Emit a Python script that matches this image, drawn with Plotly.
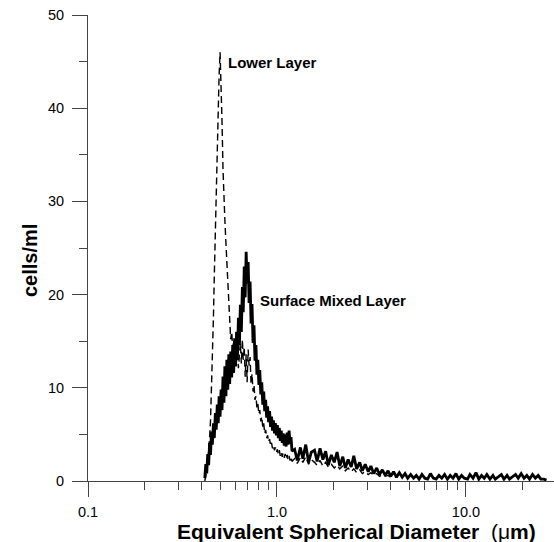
import plotly.graph_objects as go

# Channel centres of the size spectrum (equivalent spherical diameter, um)
diameter_um = [
    0.415, 0.420, 0.425, 0.430, 0.435, 0.440, 0.445, 0.450, 0.455, 0.461,
    0.466, 0.472, 0.477, 0.483, 0.489, 0.494, 0.500, 0.506, 0.512, 0.518,
    0.524, 0.530, 0.537, 0.543, 0.549, 0.556, 0.562, 0.569, 0.576, 0.583,
    0.590, 0.597, 0.604, 0.611, 0.618, 0.625, 0.633, 0.640, 0.648, 0.656,
    0.663, 0.671, 0.679, 0.687, 0.695, 0.704, 0.712, 0.721, 0.729, 0.738,
    0.747, 0.756, 0.765, 0.774, 0.783, 0.792, 0.802, 0.811, 0.821, 0.831,
    0.841, 0.851, 0.861, 0.871, 0.882, 0.892, 0.903, 0.914, 0.925, 0.936,
    0.947, 0.958, 0.970, 0.981, 0.993, 1.005, 1.017, 1.029, 1.041, 1.054,
    1.066, 1.079, 1.092, 1.105, 1.118, 1.132, 1.145, 1.159, 1.173, 1.187,
    1.201,
    1.24, 1.28, 1.33, 1.37, 1.42, 1.47, 1.52, 1.58, 1.63, 1.69,
    1.75, 1.81, 1.87, 1.94, 2.01, 2.08, 2.15, 2.23, 2.30, 2.38,
    2.47, 2.55, 2.64, 2.74, 2.83, 2.93, 3.04, 3.14, 3.25, 3.37,
    3.49, 3.61, 3.74, 3.87, 4.00, 4.14, 4.29, 4.44, 4.60, 4.76,
    4.92, 5.10, 5.28, 5.46, 5.65, 5.85, 6.06, 6.27, 6.49, 6.72,
    6.95, 7.20, 7.45, 7.71, 7.98, 8.26, 8.55, 8.85, 9.16, 9.48,
    9.81, 10.2, 10.5, 10.9, 11.3, 11.7, 12.1, 12.5, 12.9, 13.4,
    13.9, 14.3, 14.8, 15.4, 15.9, 16.5, 17.0, 17.6, 18.3, 18.9,
    19.6, 20.3, 21.0, 21.7, 22.5, 23.3, 24.1, 24.9, 25.8, 26.7,
]

# Surface mixed layer abundance (cells/ml) per channel
surface_mixed = [
    0.3, 1.8, 0.8, 2.9, 1.7, 4.1, 2.8, 5.3, 3.9, 6.2,
    4.6, 7.3, 5.5, 8.2, 6.2, 9.1, 6.9, 9.8, 7.6, 11.2,
    8.4, 12.3, 9.1, 13.0, 9.8, 13.6, 10.4, 13.9, 11.1, 14.6,
    11.6, 15.3, 12.3, 16.0, 13.4, 17.5, 14.6, 18.9, 16.0, 20.8,
    18.1, 23.0, 19.7, 24.6, 21.2, 23.5, 19.1, 21.4, 16.9, 19.0,
    14.8, 16.7, 12.9, 14.6, 11.4, 13.0, 10.3, 11.9, 9.3, 10.6,
    8.2, 9.6, 7.5, 8.7, 6.8, 8.0, 6.3, 7.5, 5.8, 6.9,
    5.4, 6.5, 5.1, 6.2, 4.9, 6.0, 4.6, 5.7, 4.3, 5.4,
    4.1, 5.1, 3.8, 5.0, 3.7, 5.2, 3.9, 5.4, 4.0, 4.7,
    3.2,
    3.4, 2.2, 3.6, 2.4, 3.9, 2.0, 3.1, 3.3, 2.1, 3.5,
    2.3, 3.2, 1.7, 2.8, 2.0, 3.1, 1.6, 2.6, 1.4, 2.3,
    1.5, 2.7, 1.3, 2.0, 1.1, 1.8, 1.0, 1.6, 0.8, 1.4,
    0.7, 1.2, 0.6, 1.1, 0.5, 1.0, 0.4, 0.9, 0.4, 0.8,
    0.3, 0.7, 0.3, 0.6, 0.2, 0.7, 0.3, 0.2, 0.8, 0.3,
    0.2, 0.6, 0.3, 0.7, 0.2, 0.6, 0.3, 0.8, 0.2, 0.6,
    0.3, 0.2, 0.7, 0.3, 0.9, 0.2, 0.6, 0.3, 0.7, 0.2,
    0.6, 0.2, 0.4, 0.7, 0.2, 0.6, 0.2, 0.4, 0.7, 0.3,
    0.8, 0.3, 0.6, 0.2, 0.7, 0.3, 0.6, 0.2, 0.2, 0.1,
]

# Lower layer abundance (cells/ml), recorded up to about 4 um
lower_layer = [
    0.0, 0.4, 1.0, 2.0, 3.2, 4.6, 6.5, 9.5, 13.0, 17.5,
    22.0, 27.0, 32.0, 36.5, 40.0, 43.5, 46.0, 43.0, 38.5, 33.5,
    30.0, 28.0, 25.5, 23.5, 20.5, 18.0, 16.5, 15.2, 16.0, 14.3,
    15.1, 13.4, 14.6, 12.8, 13.9, 12.1, 13.5, 14.8, 12.6, 15.2,
    13.0, 14.4, 11.2, 13.6, 10.6, 14.1, 12.4, 13.3, 10.4, 11.5,
    9.6, 10.3, 8.7, 9.1, 7.9, 8.3, 7.2, 7.6, 6.4, 6.9,
    5.8, 6.2, 5.1, 5.5, 4.6, 4.9, 4.2, 4.5, 3.8, 4.1,
    3.5, 3.8, 3.3, 3.6, 3.1, 3.4, 2.9, 3.3, 2.7, 3.1,
    2.6, 3.0, 2.5, 2.9, 2.4, 2.8, 2.3, 2.7, 2.2, 2.6,
    2.1,
    2.4, 1.9, 2.5, 2.0, 2.6, 1.8, 2.3, 2.0, 1.7, 2.2,
    1.6, 2.0, 1.5, 1.8, 1.4, 1.7, 1.3, 1.6, 1.1, 1.4,
    1.0, 1.3, 0.9, 1.2, 0.8, 1.0, 0.7, 0.9, 0.6, 0.8,
    0.5, 0.7, 0.5, 0.6, 0.4,
]

x_tick_vals = [0.1, 1.0, 10.0]
x_tick_text = ["0.1", "1.0", "10.0"]
x_minor_vals = [0.2, 0.3, 0.4, 0.5, 0.6, 0.7, 0.8, 0.9,
                2, 3, 4, 5, 6, 7, 8, 9, 20, 30]
y_tick_vals = [0, 10, 20, 30, 40, 50]

FONT = "Arial, 'Liberation Sans', Helvetica, sans-serif"

fig = go.Figure()

fig.add_trace(go.Scatter(
    x=diameter_um[:len(lower_layer)], y=lower_layer, mode="lines",
    line=dict(color="black", width=1.4, dash="7px,4px"),
    name="Lower Layer", showlegend=False,
))
fig.add_trace(go.Scatter(
    x=diameter_um, y=surface_mixed, mode="lines",
    line=dict(color="black", width=2.8),
    name="Surface Mixed Layer", showlegend=False,
))

fig.add_annotation(
    x=-0.27, y=44.9, xref="x", yref="y", text="<b>Lower Layer</b>",
    showarrow=False, xanchor="left", yanchor="middle",
    font=dict(family=FONT, size=15, color="black"),
)
fig.add_annotation(
    x=-0.10, y=19.35, xref="x", yref="y", text="<b>Surface Mixed Layer</b>",
    showarrow=False, xanchor="left", yanchor="middle",
    font=dict(family=FONT, size=15, color="black"),
)
# x-axis title, sitting right of the plot centre
fig.add_annotation(
    x=0.577, y=-0.109, xref="paper", yref="paper",
    text="<b>Equivalent Spherical Diameter</b>\u00a0\u00a0(\u03bc<b>m)</b>",
    showarrow=False, xanchor="center", yanchor="middle",
    font=dict(family=FONT, size=21, color="black"),
)
# y-axis title
fig.add_annotation(
    x=-0.1245, y=0.474, xref="paper", yref="paper",
    text="<b>cells/ml</b>", textangle=-90,
    showarrow=False, xanchor="center", yanchor="middle",
    font=dict(family=FONT, size=20, color="black"),
)

fig.update_xaxes(
    type="log", range=[-1, 1.466],
    showgrid=False, zeroline=False,
    showline=True, linecolor="#444", linewidth=1,
    ticks="outside", ticklen=15, tickwidth=1, tickcolor="#444",
    tickvals=x_tick_vals, ticktext=x_tick_text,
    ticklabelstandoff=3,
    tickfont=dict(family=FONT, size=14.5, color="black"),
    minor=dict(ticks="outside", ticklen=8, tickwidth=1, tickcolor="#444",
               tickvals=x_minor_vals, showgrid=False),
)
fig.update_yaxes(
    range=[0, 50],
    showgrid=False, zeroline=False,
    showline=True, linecolor="#444", linewidth=1,
    ticks="outside", ticklen=15, tickwidth=1, tickcolor="#444",
    tickvals=y_tick_vals,
    ticklabelstandoff=5,
    tickfont=dict(family=FONT, size=14.5, color="black"),
    minor=dict(ticks="outside", ticklen=8, tickwidth=1, tickcolor="#444",
               dtick=5, showgrid=False),
)

fig.update_layout(
    width=554, height=542,
    margin=dict(l=88, r=0, t=15, b=61, pad=0),
    paper_bgcolor="white", plot_bgcolor="white",
    showlegend=False,
)

fig.write_html("out.html")
